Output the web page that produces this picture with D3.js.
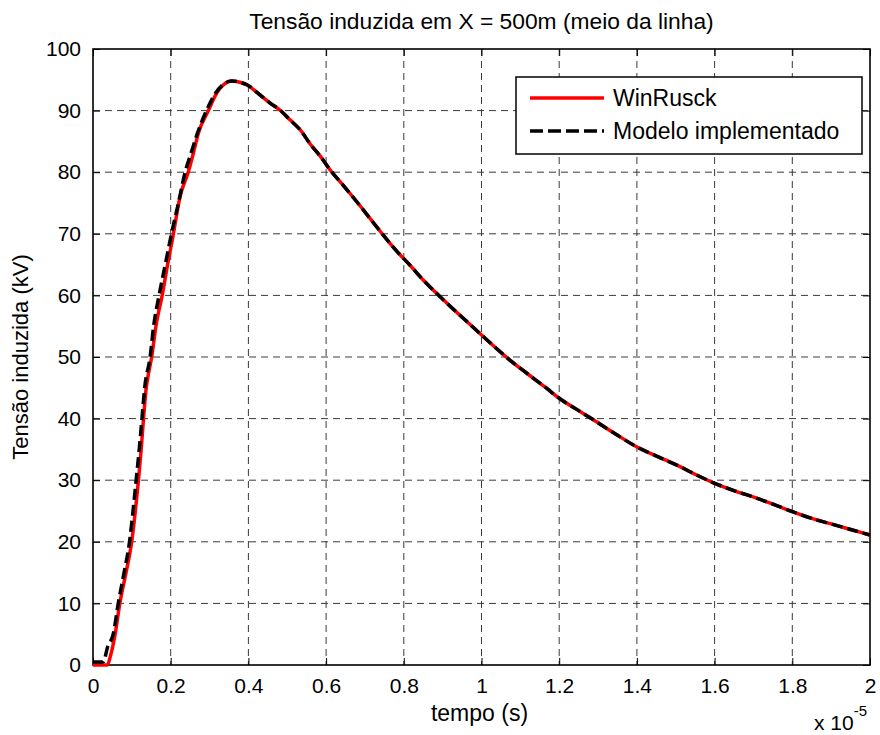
<!DOCTYPE html>
<html>
<head>
<meta charset="utf-8">
<script src="https://cdn.jsdelivr.net/npm/d3@7"></script>
<style>
  body { margin: 0; background: #fff; }
  text { font-family: "Liberation Sans", Arial, Helvetica, sans-serif; fill: #000; }
</style>
</head>
<body>
<div class="chart"></div>
<script>
// time in units of 1e-5 s, voltage in kV
const tWin = [0, 0.037, 0.045, 0.057, 0.069, 0.085, 0.0996, 0.109, 0.117, 0.124, 0.130, 0.137, 0.142, 0.151, 0.162, 0.178, 0.192, 0.207, 0.215, 0.224, 0.245, 0.258, 0.271, 0.297, 0.318, 0.336, 0.357, 0.378, 0.396, 0.425, 0.456, 0.481, 0.507, 0.533, 0.56, 0.585, 0.61, 0.645, 0.679, 0.713, 0.747, 0.78, 0.816, 0.85, 0.885, 0.92, 0.953, 1.005, 1.04, 1.073, 1.12, 1.168, 1.2, 1.245, 1.288, 1.345, 1.4, 1.455, 1.511, 1.555, 1.6, 1.655, 1.708, 1.755, 1.8, 1.85, 1.9, 1.95, 2.0];
const vWin = [0, 0, 1.5, 5, 10, 15, 20, 25, 30, 35, 40, 45, 47, 50, 55, 60, 65, 70, 73, 76, 80, 83, 86.3, 90, 92.8, 94.2, 94.8, 94.6, 94.2, 92.8, 91.2, 90.1, 88.5, 86.9, 84.5, 82.6, 80.4, 77.8, 75.2, 72.5, 69.8, 67.3, 64.9, 62.5, 60.3, 58.2, 56.3, 53.3, 51.3, 49.5, 47.2, 44.9, 43.3, 41.5, 39.8, 37.5, 35.4, 33.8, 32.2, 30.8, 29.5, 28.2, 27.1, 26.0, 24.9, 23.8, 22.9, 22.0, 21.1];

const tModel = [0, 0.026, 0.038, 0.052, 0.065, 0.08, 0.094, 0.103, 0.111, 0.119, 0.126, 0.133, 0.147, 0.156, 0.170, 0.186, 0.202, 0.22, 0.237, 0.252, 0.267, 0.292, 0.315, 0.336, 0.357, 0.378, 0.396, 0.425, 0.456, 0.481, 0.507, 0.533, 0.56, 0.585, 0.61, 0.645, 0.679, 0.713, 0.747, 0.78, 0.816, 0.85, 0.885, 0.92, 0.953, 1.005, 1.04, 1.073, 1.12, 1.168, 1.2, 1.245, 1.288, 1.345, 1.4, 1.455, 1.511, 1.555, 1.6, 1.655, 1.708, 1.755, 1.8, 1.85, 1.9, 1.95, 2.0];
const vModel = [0.5, 0.5, 3, 5, 10, 15, 20, 25, 30, 35, 40, 45, 50, 55, 60, 65, 70, 75, 80, 83, 86, 90, 92.8, 94.3, 94.8, 94.6, 94.2, 92.8, 91.2, 90.1, 88.5, 86.9, 84.5, 82.6, 80.4, 77.8, 75.2, 72.5, 69.8, 67.3, 64.9, 62.5, 60.3, 58.2, 56.3, 53.3, 51.3, 49.5, 47.2, 44.9, 43.3, 41.5, 39.8, 37.5, 35.4, 33.8, 32.2, 30.8, 29.5, 28.2, 27.1, 26.0, 24.9, 23.8, 22.9, 22.0, 21.1];

const xTicks = [0, 0.2, 0.4, 0.6, 0.8, 1, 1.2, 1.4, 1.6, 1.8, 2];
const yTicks = [0, 10, 20, 30, 40, 50, 60, 70, 80, 90, 100];
const seriesNames = ["WinRusck", "Modelo implementado"];

const w = 880, h = 735;
const pLeft = 93, pRight = 870, pTop = 49, pBottom = 665;

var svg = d3.select(".chart").append("svg")
    .attr("width", w)
    .attr("height", h);

var xScale = d3.scaleLinear().domain([0, 2]).range([pLeft, pRight]);
var yScale = d3.scaleLinear().domain([0, 100]).range([pBottom, pTop]);

// grid
svg.append("g").selectAll("line")
   .data(xTicks.slice(1, -1))
   .enter().append("line")
   .attr("x1", d => xScale(d)).attr("x2", d => xScale(d))
   .attr("y1", pTop).attr("y2", pBottom)
   .attr("stroke", "#3a3a3a").attr("stroke-width", 1)
   .attr("stroke-dasharray", "7,5");

svg.append("g").selectAll("line")
   .data(yTicks.slice(1, -1))
   .enter().append("line")
   .attr("x1", pLeft).attr("x2", pRight)
   .attr("y1", d => yScale(d)).attr("y2", d => yScale(d))
   .attr("stroke", "#3a3a3a").attr("stroke-width", 1)
   .attr("stroke-dasharray", "7,5");

// axes
var xAxis = d3.axisBottom(xScale).tickValues(xTicks).tickSize(-7).tickPadding(13)
    .tickFormat(d => d3.format("")(+d.toFixed(1)));
svg.append("g")
   .attr("transform", "translate(0," + pBottom + ")")
   .call(xAxis);

var yAxis = d3.axisLeft(yScale).tickValues(yTicks).tickSize(-7).tickPadding(12);
svg.append("g")
   .attr("transform", "translate(" + pLeft + ",0)")
   .call(yAxis);

svg.append("g")
   .attr("transform", "translate(0," + pTop + ")")
   .call(d3.axisTop(xScale).tickValues(xTicks).tickSize(-7).tickFormat(""));
svg.append("g")
   .attr("transform", "translate(" + pRight + ",0)")
   .call(d3.axisRight(yScale).tickValues(yTicks).tickSize(-7).tickFormat(""));

svg.selectAll(".domain").remove();
svg.selectAll(".tick line").attr("stroke", "#000").attr("stroke-width", 1);
svg.selectAll(".tick text").style("font-size", "21px").style("font-family", "Liberation Sans, Arial, sans-serif").attr("fill", "#000");

svg.append("rect")
   .attr("x", pLeft).attr("y", pTop)
   .attr("width", pRight - pLeft).attr("height", pBottom - pTop)
   .attr("fill", "none").attr("stroke", "#000").attr("stroke-width", 1.6);

// curves
var line = d3.line()
    .x(d => xScale(d[0]))
    .y(d => yScale(d[1]))
    .curve(d3.curveMonotoneX);

svg.append("path")
   .datum(d3.zip(tWin, vWin))
   .attr("d", line)
   .attr("fill", "none").attr("stroke", "#ff0000").attr("stroke-width", 3.5);

svg.append("path")
   .datum(d3.zip(tModel, vModel))
   .attr("d", line)
   .attr("fill", "none").attr("stroke", "#000").attr("stroke-width", 3.5)
   .attr("stroke-dasharray", "11,5");

// legend
var lg = svg.append("g").attr("transform", "translate(516,77)");
lg.append("rect").attr("width", 346).attr("height", 77)
  .attr("fill", "#fff").attr("stroke", "#000").attr("stroke-width", 1.5);
lg.append("line").attr("x1", 14).attr("x2", 88).attr("y1", 21).attr("y2", 21)
  .attr("stroke", "#ff0000").attr("stroke-width", 3.5);
lg.append("line").attr("x1", 14).attr("x2", 88).attr("y1", 54).attr("y2", 54)
  .attr("stroke", "#000").attr("stroke-width", 3.5).attr("stroke-dasharray", "13,5");
lg.selectAll("text.lt")
  .data(seriesNames)
  .enter().append("text")
  .attr("class", "lt")
  .attr("x", 97)
  .attr("y", (d, i) => 29 + i * 33)
  .style("font-size", "23px")
  .text(d => d);

// labels
svg.append("text")
   .attr("x", (pLeft + pRight) / 2).attr("y", 29)
   .attr("text-anchor", "middle")
   .style("font-size", "22.8px")
   .text("Tensão induzida em X = 500m (meio da linha)");

svg.append("text")
   .attr("x", (pLeft + pRight) / 2 - 2).attr("y", 721)
   .attr("text-anchor", "middle")
   .style("font-size", "23px")
   .text("tempo (s)");

svg.append("text")
   .attr("transform", "translate(28," + (pTop + pBottom) / 2 + ") rotate(-90)")
   .attr("text-anchor", "middle")
   .style("font-size", "22px")
   .text("Tensão induzida (kV)");

var ex = svg.append("text").attr("x", 814).attr("y", 730).style("font-size", "21px");
ex.append("tspan").text("x 10");
ex.append("tspan").attr("dy", -14).style("font-size", "15px").text("-5");
</script>
</body>
</html>
